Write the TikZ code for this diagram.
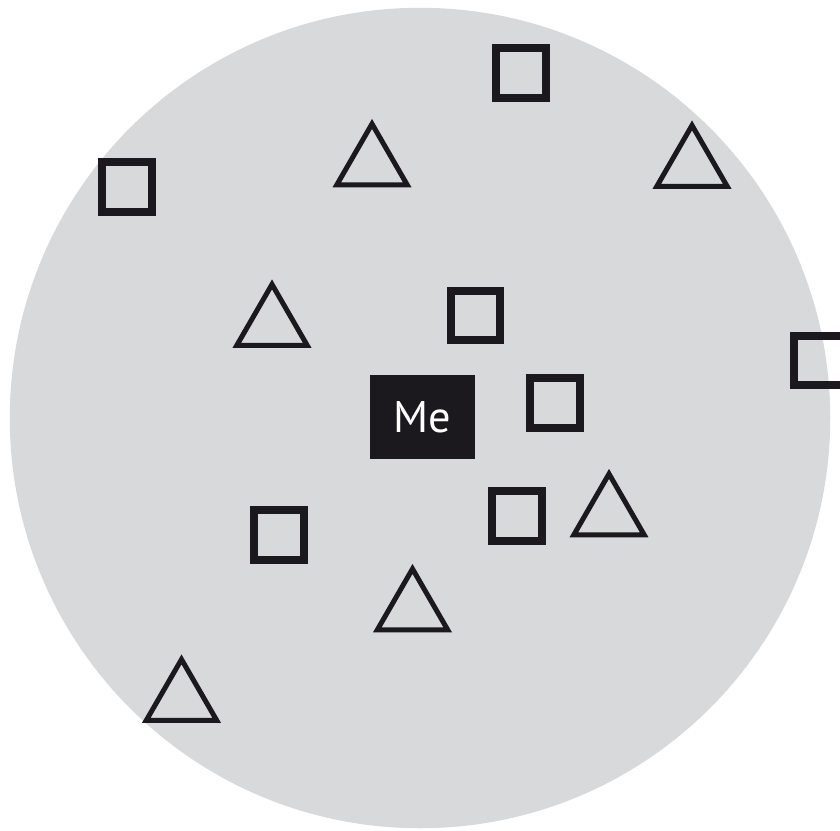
\documentclass[tikz,border=0pt]{standalone}
\usepackage{fontspec}
\usepackage{tikz}
\usetikzlibrary{shapes.geometric}
\newfontfamily\mefont{PT Sans}
\definecolor{fieldgray}{RGB}{216,217,219}
\definecolor{markink}{RGB}{27,25,29}
\newcommand{\sqmark}[3]{%
  \node[draw=markink,line width=2.3pt,minimum size=0.497cm,inner sep=0pt] (#1) at (#2,#3) {};
}
\newcommand{\trimark}[3]{%
  % circumcircle diameter, so the outer width comes to about 79px
  \node[draw=markink,line width=1.42pt,regular polygon,regular polygon sides=3,
    minimum size=0.812cm,inner sep=0pt] (#1) at (#2,#3) {};
}

\begin{document}
\begin{tikzpicture}[x=0.01cm,y=-0.01cm]
    \useasboundingbox (0,0) rectangle (840,830);
    \clip (0,0) rectangle (840,830);
    \node[circle,fill=fieldgray,minimum size=8.2cm,inner sep=0pt] (field) at (420,418) {};
    \node[fill=markink,text=white,minimum width=1.05cm,minimum height=0.84cm,
      inner sep=0pt,font=\mefont\fontsize{12.6}{15}\selectfont] (me) at (422.5,417) {Me};
    \sqmark{sqtop}{521}{73}
    \sqmark{sqleft}{127}{187}
    \sqmark{sqmid}{475.5}{315.5}
    \sqmark{sqedge}{819}{360.5}
    \sqmark{sqnear}{555}{403}
    \sqmark{sqlow}{517}{516}
    \sqmark{sqfar}{279}{535}
    \trimark{tritop}{372}{164.5}
    \trimark{triright}{692}{166}
    \trimark{trimid}{272}{325}
    \trimark{trinear}{609}{514.5}
    \trimark{trilow}{412.5}{609.5}
    \trimark{trifar}{181.5}{700}
  \end{tikzpicture}
\end{document}
